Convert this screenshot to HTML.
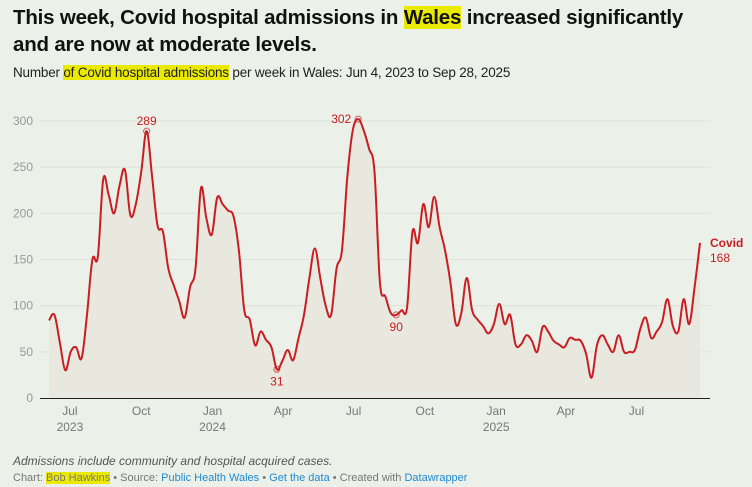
<!DOCTYPE html>
<html><head><meta charset="utf-8">
<style>
html,body{margin:0;padding:0;background:#ebf0e8;width:752px;height:487px;overflow:hidden;font-family:"Liberation Sans",sans-serif;}
.hl{background:#eaea00;}
#title{position:absolute;left:13px;top:4px;width:690px;font-size:20.5px;font-weight:bold;line-height:27px;color:#111;letter-spacing:-0.2px;}
#sub{position:absolute;left:13px;top:65px;font-size:13.5px;color:#222;letter-spacing:-0.2px;}
#note{position:absolute;left:13px;top:454px;font-size:12px;font-style:italic;color:#555;}
#foot{position:absolute;left:13px;top:472px;font-size:11px;color:#777;}
#foot a{color:#1f8ad0;text-decoration:none;}
svg{position:absolute;left:0;top:0;}
</style></head><body>
<div id="title">This week, Covid hospital admissions in <span class="hl">Wales</span> increased significantly and are now at moderate levels.</div>
<div id="sub">Number <span class="hl">of Covid hospital admissions</span> per week in Wales: Jun 4, 2023 to Sep 28, 2025</div>
<svg id="chart" width="752" height="487"></svg>
<div id="note">Admissions include community and hospital acquired cases.</div>
<div id="foot">Chart: <span class="hl">Bob Hawkins</span> • Source: <a>Public Health Wales</a> • <a>Get the data</a> • Created with <a>Datawrapper</a></div>
<script>
const values=[84,90,60,30,50,55,43,90,150,153,237,220,200,230,247,198,210,245,289,240,187,180,140,122,105,87,120,140,227,195,177,217,210,203,197,160,95,85,57,72,63,55,31,40,52,41,65,90,130,162,130,100,90,140,160,240,290,302,290,270,245,125,110,92,90,95,98,180,168,210,185,218,185,160,125,80,92,130,95,85,78,70,80,102,80,90,58,58,68,62,50,77,72,62,58,55,65,63,62,48,22,57,68,58,50,68,50,50,52,75,87,65,72,82,107,78,72,107,80,120,168];
const yTicks=[0,50,100,150,200,250,300];
const xTicks=[{d:"2023-07-01",m:"Jul",y:"2023"},{d:"2023-10-01",m:"Oct",y:""},{d:"2024-01-01",m:"Jan",y:"2024"},{d:"2024-04-01",m:"Apr",y:""},{d:"2024-07-01",m:"Jul",y:""},{d:"2024-10-01",m:"Oct",y:""},{d:"2025-01-01",m:"Jan",y:"2025"},{d:"2025-04-01",m:"Apr",y:""},{d:"2025-07-01",m:"Jul",y:""}];
const annotations=[{i:18,label:"289",pos:"above"},{i:42,label:"31",pos:"below"},{i:57,label:"302",pos:"left"},{i:64,label:"90",pos:"below"}];
const startDate=new Date("2023-06-04T00:00:00Z");
const X0=49,X1=700,Y0=398,Y300=121;
const xs=i=>X0+(X1-X0)*i/(values.length-1);
const xd=s=>{const w=(new Date(s+"T00:00:00Z")-startDate)/(7*864e5);return xs(w);};
const ys=v=>Y0-(Y0-Y300)*v/300;
const svg=document.getElementById('chart');const NS="http://www.w3.org/2000/svg";
function mk(t,a,p){const e=document.createElementNS(NS,t);for(const k in a)e.setAttribute(k,a[k]);(p||svg).appendChild(e);return e;}
yTicks.forEach(t=>{
 if(t>0){const g=mk('line',{x1:40,x2:710,y1:ys(t),y2:ys(t),stroke:'#dde3dc','stroke-width':1});
 
 }
 const l=mk('text',{x:33,y:ys(t)+4,'text-anchor':'end','font-size':12,fill:'#999','font-family':'Liberation Sans'});l.textContent=t;
 
 
});
const pts=values.map((v,i)=>[xs(i),ys(v)]);
let d="M"+pts[0][0]+","+pts[0][1];
for(let i=0;i<pts.length-1;i++){const p0=pts[Math.max(0,i-1)],p1=pts[i],p2=pts[i+1],p3=pts[Math.min(pts.length-1,i+2)];const t=0.18;
 d+=` C${p1[0]+(p2[0]-p0[0])*t},${p1[1]+(p2[1]-p0[1])*t} ${p2[0]-(p3[0]-p1[0])*t},${p2[1]-(p3[1]-p1[1])*t} ${p2[0]},${p2[1]}`;}
const area=mk('path',{d:d+` L${xs(values.length-1)},${Y0} L${X0},${Y0} Z`,fill:'#e8e8df'});


const line=mk('path',{d:d,fill:'none',stroke:'#c91d22','stroke-width':2,'stroke-linejoin':'round'});


const ax=mk('line',{x1:40,x2:710,y1:Y0+0.5,y2:Y0+0.5,stroke:'#222','stroke-width':1});


xTicks.forEach(t=>{const x=xd(t.d);
 const a=mk('text',{x:x,y:415,'text-anchor':'middle','font-size':12,fill:'#777','font-family':'Liberation Sans'});a.textContent=t.m;
 
 
 if(t.y){const b=mk('text',{x:x,y:431,'text-anchor':'middle','font-size':12,fill:'#777','font-family':'Liberation Sans'});b.textContent=t.y;
 
 }
});
annotations.forEach(a=>{const x=xs(a.i),y=ys(values[a.i]);
 const c=mk('circle',{cx:x,cy:y,r:3,fill:'none',stroke:'#c91d22','stroke-width':1,opacity:0.7});
 
 
 let tx=x,ty=y-6,anc='middle';
 if(a.pos==='below'){ty=y+16;}
 if(a.pos==='left'){tx=x-7;ty=y+4;anc='end';}
 const t=mk('text',{x:tx,y:ty,'text-anchor':anc,'font-size':12,fill:'#c91d22','font-family':'Liberation Sans'});t.textContent=a.label;
 
 
});
const lx=710,ly=ys(values[values.length-1]);
const n=mk('text',{x:lx,y:ly+4,'font-size':12,'font-weight':'bold',fill:'#c91d22','font-family':'Liberation Sans'});n.textContent="Covid";


const v=mk('text',{x:lx,y:ly+19,'font-size':12,fill:'#c91d22','font-family':'Liberation Sans'});v.textContent=values[values.length-1];


</script>
</body></html>
